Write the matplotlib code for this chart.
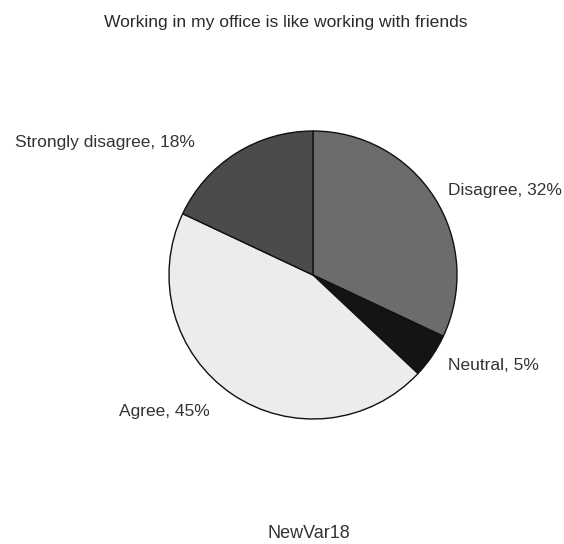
import matplotlib
matplotlib.use('Agg')
import matplotlib.pyplot as plt

plt.rcParams['font.family'] = ['Liberation Sans', 'DejaVu Sans']

categories = ['Disagree', 'Neutral', 'Agree', 'Strongly disagree']
percents = [32, 5, 45, 18]
colors = ['#6c6c6c', '#141414', '#ececec', '#4b4b4b']
# label anchor points (in pie radius units) and alignment
label_pos = [(0.94, 0.59), (0.94, -0.625), (-0.715, -0.95), (-0.82, 0.92)]
label_ha = ['left', 'left', 'right', 'right']

fig = plt.figure(figsize=(5.64, 5.44), dpi=100)
fig.patch.set_facecolor('white')

ax = fig.add_axes([169 / 564, 125 / 544, 288 / 564, 288 / 544])
ax.pie(percents, colors=colors, startangle=90, counterclock=False, radius=1,
       wedgeprops=dict(edgecolor='#111111', linewidth=1.0))
ax.set_xlim(-1, 1)
ax.set_ylim(-1, 1)
ax.set_aspect('equal')
ax.axis('off')

for name, pct, (x, y), ha in zip(categories, percents, label_pos, label_ha):
    ax.text(x, y, f'{name}, {pct}%', ha=ha, va='center', fontsize=12.5,
            color='#333333', clip_on=False)

fig.text(286 / 564, 1 - 23 / 544, 'Working in my office is like working with friends',
         ha='center', va='center', fontsize=12.6, color='#2b2b2b')
fig.text(309 / 564, 1 - 534 / 544, 'NewVar18', ha='center', va='center',
         fontsize=13, color='#333333')

fig.savefig('out.png', dpi=100)
